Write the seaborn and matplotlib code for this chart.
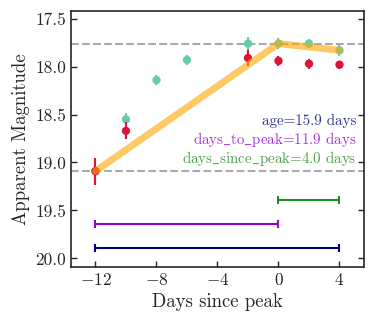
import numpy as np
import pandas as pd
import matplotlib.pyplot as plt
import seaborn as sns

# photometry
red_days = [-12, -10, -2, 0, 2, 4]
red_mag = [19.09, 18.67, 17.91, 17.94, 17.97, 17.98]
red_err = [0.14, 0.09, 0.08, 0.05, 0.05, 0.04]

green_days = [-12, -10, -8, -6, -2, 0, 2, 4]
green_mag = [19.09, 18.55, 18.14, 17.93, 17.76, 17.76, 17.76, 17.83]
green_err = [0.12, 0.07, 0.05, 0.05, 0.07, 0.06, 0.05, 0.06]

model_days = [-12, 0, 4]
model_mag = [19.09, 17.76, 17.83]

peak_mag = 17.76
first_mag = 19.09

# timescale bars: (start, end, y, colour)
spans = [(-12, 4, 19.89, 'navy'), (-12, 0, 19.64, 'darkviolet'), (0, 4, 19.39, 'forestgreen')]
labels = ['age=15.9 days', r'days$\_$to$\_$peak=11.9 days', r'days$\_$since$\_$peak=4.0 days']

sns.set_style('ticks')
plt.rcParams['font.family'] = ['cmr10', 'DejaVu Serif']
plt.rcParams['mathtext.fontset'] = 'cm'
plt.rcParams['axes.formatter.use_mathtext'] = True
plt.rcParams['axes.unicode_minus'] = True

fig = plt.figure(figsize=(3.74, 3.24), dpi=100)
ax = fig.add_axes([0.19, 0.176, 0.783, 0.79])

ax.axhline(peak_mag, color='darkgray', ls='--', lw=1.5, zorder=1)
ax.axhline(first_mag, color='darkgray', ls='--', lw=1.5, zorder=1)

ax.errorbar(green_days, green_mag, yerr=green_err, fmt='none', ecolor='mediumaquamarine', lw=1.5, zorder=2)
sns.scatterplot(x=green_days, y=green_mag, color='mediumaquamarine', s=36, edgecolor='none', ax=ax, zorder=2)
ax.errorbar(red_days, red_mag, yerr=red_err, fmt='none', ecolor='crimson', lw=1.5, zorder=3)
sns.scatterplot(x=red_days, y=red_mag, color='crimson', s=36, edgecolor='none', ax=ax, zorder=3)

sns.lineplot(x=model_days, y=model_mag, sort=False, color='orange', alpha=0.6, lw=5, ax=ax, zorder=4)

for start, end, y, col in spans:
    ax.errorbar([(start + end) / 2], [y], xerr=[(end - start) / 2], fmt='none',
                ecolor=col, lw=1.5, capsize=3, capthick=1.5)

for (start, end, y, col), txt, ty in zip(spans, labels, [0.57, 0.497, 0.422]):
    ax.text(0.975, ty, txt, transform=ax.transAxes, ha='right', va='center',
            color=col, alpha=0.8, fontsize=10.8, family=['cmr10', 'DejaVu Serif'])

ax.set_xlim(-13.6, 5.6)
ax.set_ylim(20.09, 17.42)
ax.set_xticks([-12, -8, -4, 0, 4])
ax.set_yticks([17.5, 18.0, 18.5, 19.0, 19.5, 20.0])
ax.set_yticklabels(['17.5', '18.0', '18.5', '19.0', '19.5', '20.0'])
ax.set_xticklabels(['$-12$', '$-8$', '$-4$', '$0$', '$4$'])
ax.tick_params(direction='in', right=True, labelsize=12.5, width=1, length=4)
for sp in ax.spines.values():
    sp.set_linewidth(1.2)
ax.set_xlabel('Days since peak', fontsize=13.5)
ax.set_ylabel('Apparent Magnitude', fontsize=13.5)

fig.savefig('out.png', dpi=100)
